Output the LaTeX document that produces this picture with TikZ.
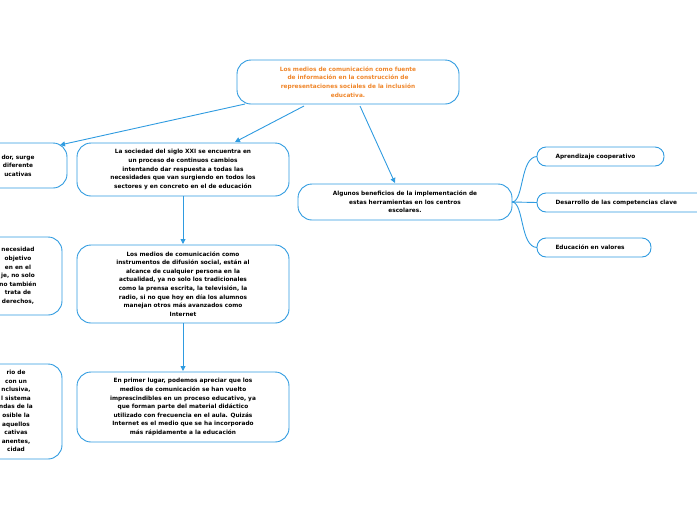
\documentclass[tikz,border=0pt]{standalone}
\usepackage{fontspec}
\setmainfont{DejaVu Sans}
\usetikzlibrary{arrows.meta}
\definecolor{bl}{HTML}{2F9BE0}
\definecolor{og}{HTML}{F0862A}
\begin{document}
\begin{tikzpicture}[x=1pt,y=-1pt,
 box/.style={draw=bl,line width=0.9pt,rounded corners=14pt,fill=white},
 txt/.style={font=\fontsize{5.8}{8.6}\selectfont\bfseries,align=center,text=black},
 con/.style={draw=bl,line width=0.9pt,-{Triangle[length=5pt,width=5pt]}},
 lin/.style={draw=bl,line width=0.9pt}]
\useasboundingbox (0,0) rectangle (697,520);
\clip (0,0) rectangle (697,520);
% boxes
\draw[box] (237,60) rectangle (459,104); \node[txt,text=og] (root) at (348,82) {Los medios de comunicación como fuente\\de información en la construcción de\\representaciones sociales de la inclusión\\educativa.};
\draw[box] (-80,143) rectangle (67,188); \node[txt] (L1) at (18,165.5) {dor, surge\\ diferente\\ucativas};
\draw[box] (-80,237) rectangle (62,315); \node[txt] (L2) at (18,276) {necesidad\\objetivo\\en en el\\je, no solo\\no también\\trata de\\ derechos,};
\draw[box] (-80,364) rectangle (62,459); \node[txt] (L3) at (16,411) {rio de\\con un\\nclusiva,\\l sistema\\ndas de la\\osible la\\ aquellos\\cativas\\anentes,\\cidad};
\draw[box] (77,143) rectangle (289,196); \node[txt] (A) at (183,169.5) {La sociedad del siglo XXI se encuentra en\\un proceso de continuos cambios\\intentando dar respuesta a todas las\\necesidades que van surgiendo en todos los\\sectores y en concreto en el de educación};
\draw[box] (77,245) rectangle (289,323); \node[txt] (B) at (183,284) {Los medios de comunicación como\\instrumentos de difusión social, están al\\alcance de cualquier persona en la\\actualidad, ya no solo los tradicionales\\como la prensa escrita, la televisión, la\\radio, si no que hoy en día los alumnos\\manejan otros más avanzados como\\Internet};
\draw[box] (77,372) rectangle (289,442); \node[txt] (C) at (183,407) {En primer lugar, podemos apreciar que los\\medios de comunicación se han vuelto\\imprescindibles en un proceso educativo, ya\\que forman parte del material didáctico\\utilizado con frecuencia en el aula. Quizás\\Internet es el medio que se ha incorporado\\más rápidamente a la educación};
\draw[box] (298,184) rectangle (512,220); \node[txt] (D) at (405,202) {Algunos beneficios de la implementación de\\estas herramientas en los centros\\escolares.};
\draw[box,rounded corners=9pt] (537,147) rectangle (664,166); \node[txt,anchor=west] (E1) at (552,156.5) {Aprendizaje cooperativo};
\draw[box,rounded corners=9pt] (537,193) rectangle (740,212); \node[txt,anchor=west] (E2) at (552,202.5) {Desarrollo de las competencias clave};
\draw[box,rounded corners=9pt] (537,238) rectangle (651,257); \node[txt,anchor=west] (E3) at (552,247.5) {Educación en valores};
% connectors
\coordinate (r1) at (245,104); \coordinate (t1) at (60,145);
\coordinate (r2) at (304,106); \coordinate (t2) at (235,142);
\coordinate (r3) at (360,106); \coordinate (t3) at (395,183);
\draw[con] (r1) -- (t1);
\draw[con] (r2) -- (t2);
\draw[con] (r3) -- (t3);
\draw[con] (183,196) -- (183,244);
\draw[con] (183,323) -- (183,371);
\coordinate (ds) at (512,202);
\draw[lin] (ds) -- (537,202.5);
\draw[lin] (ds) .. controls (524,202) and (520,157) .. (537,156.5);
\draw[lin] (ds) .. controls (524,202) and (520,247) .. (537,247.5);
\end{tikzpicture}
\end{document}
